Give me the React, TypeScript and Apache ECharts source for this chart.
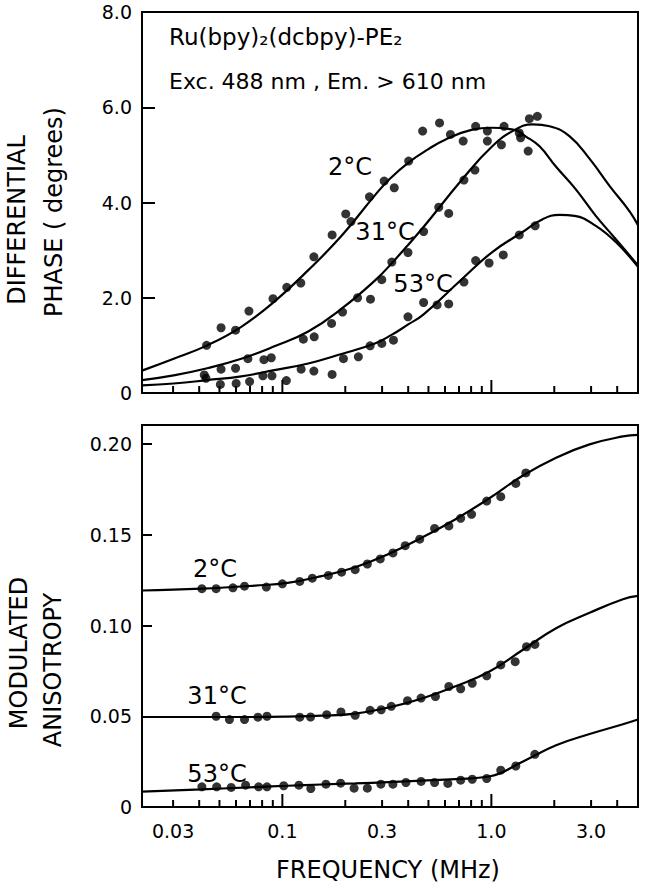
import React, { useEffect, useRef } from 'react';
import * as echarts from 'echarts';

const FONT = '"DejaVu Sans", sans-serif';

// ---- axis ticks / labels ----
const xMinorTicks = [0.03, 0.04, 0.05, 0.06, 0.07, 0.08, 0.09, 0.2, 0.3, 0.4, 0.5, 0.6, 0.7, 0.8, 0.9, 2, 3, 4];
const xMajorTicks = [0.1, 1.0];
const xTickValues = [0.03, 0.1, 0.3, 1.0, 3.0];
const xTickLabels = ['0.03', '0.1', '0.3', '1.0', '3.0'];
const phaseTickValues = [0, 2, 4, 6, 8];
const phaseTickLabels = ['0', '2.0', '4.0', '6.0', '8.0'];
const anisoTickValues = [0, 0.05, 0.1, 0.15, 0.2];
const anisoTickLabels = ['0', '0.05', '0.10', '0.15', '0.20'];
const temperatures = ['2°C', '31°C', '53°C'];

// ---- differential phase: measured points ----
const phase2Freq = [0.0434, 0.0509, 0.0597, 0.0692, 0.0902, 0.105, 0.1225, 0.1415, 0.173, 0.201, 0.213, 0.261, 0.307, 0.343, 0.402, 0.469, 0.565, 0.637, 0.733, 0.841, 0.957, 1.15, 1.38, 1.5];
const phase2Val = [1.0, 1.37, 1.32, 1.72, 1.98, 2.22, 2.31, 2.86, 3.32, 3.76, 3.6, 4.12, 4.45, 4.31, 4.87, 5.5, 5.67, 5.43, 5.29, 5.6, 5.5, 5.6, 5.36, 5.08];
const phase31Freq = [0.0423, 0.0509, 0.0597, 0.0684, 0.0816, 0.0885, 0.126, 0.142, 0.172, 0.194, 0.229, 0.264, 0.299, 0.334, 0.399, 0.474, 0.56, 0.625, 0.739, 0.834, 0.957, 1.117, 1.36, 1.52, 1.66];
const phase31Val = [0.38, 0.5, 0.52, 0.72, 0.7, 0.74, 1.13, 1.18, 1.46, 1.7, 2.0, 1.97, 2.38, 2.75, 2.95, 3.39, 3.9, 3.77, 4.47, 4.68, 5.29, 5.21, 5.46, 5.76, 5.81];
const phase53Freq = [0.0431, 0.0505, 0.0601, 0.0697, 0.0807, 0.0892, 0.1045, 0.123, 0.1415, 0.173, 0.196, 0.231, 0.263, 0.299, 0.34, 0.399, 0.474, 0.55, 0.625, 0.739, 0.841, 0.975, 1.14, 1.36, 1.62];
const phase53Val = [0.31, 0.18, 0.2, 0.24, 0.36, 0.36, 0.26, 0.5, 0.46, 0.39, 0.72, 0.76, 0.99, 1.04, 1.11, 1.6, 1.9, 1.85, 1.87, 2.33, 2.78, 2.73, 2.9, 3.32, 3.51];

// ---- differential phase: fitted curves ----
const phaseFit2Freq = [0.0213, 0.0302, 0.0437, 0.0636, 0.0916, 0.133, 0.192, 0.277, 0.327, 0.404, 0.5, 0.601, 0.811, 1.0, 1.3, 1.457, 1.7, 2.03, 2.53, 3.16, 3.94, 5.03];
const phaseFit2Val = [0.47, 0.72, 1.0, 1.39, 1.92, 2.58, 3.3, 4.15, 4.5, 4.85, 5.12, 5.32, 5.53, 5.57, 5.52, 5.39, 5.18, 4.76, 4.28, 3.72, 3.23, 2.68];
const phaseFit31Freq = [0.0213, 0.0302, 0.0437, 0.0636, 0.0916, 0.133, 0.192, 0.277, 0.333, 0.466, 0.726, 1.01, 1.3, 1.575, 1.9, 2.37, 2.96, 3.69, 4.61, 5.03];
const phaseFit31Val = [0.27, 0.37, 0.52, 0.72, 0.98, 1.29, 1.77, 2.36, 2.72, 3.45, 4.49, 5.18, 5.53, 5.64, 5.6, 5.39, 4.91, 4.34, 3.8, 3.52];
const phaseFit53Freq = [0.0213, 0.0302, 0.0437, 0.0636, 0.0916, 0.133, 0.192, 0.277, 0.333, 0.4, 0.474, 0.726, 1.01, 1.41, 1.76, 2.12, 2.5, 3.16, 3.94, 5.03];
const phaseFit53Val = [0.16, 0.2, 0.27, 0.35, 0.48, 0.62, 0.82, 1.04, 1.22, 1.44, 1.65, 2.4, 2.96, 3.38, 3.65, 3.74, 3.72, 3.51, 3.17, 2.65];

// ---- modulated anisotropy: measured points ----
const aniso2Freq = [0.0412, 0.0482, 0.058, 0.0659, 0.0838, 0.1, 0.1211, 0.139, 0.166, 0.192, 0.223, 0.255, 0.294, 0.338, 0.387, 0.454, 0.535, 0.626, 0.713, 0.804, 0.95, 1.109, 1.309, 1.462];
const aniso2Val = [0.1203, 0.1203, 0.1208, 0.1217, 0.1212, 0.123, 0.1243, 0.1261, 0.1276, 0.1294, 0.1308, 0.1339, 0.1367, 0.14, 0.144, 0.1476, 0.1535, 0.1549, 0.1591, 0.1613, 0.1686, 0.171, 0.1783, 0.1841];
const aniso31Freq = [0.0482, 0.0558, 0.0659, 0.0764, 0.0844, 0.1211, 0.1364, 0.163, 0.1907, 0.223, 0.263, 0.297, 0.332, 0.397, 0.461, 0.54, 0.626, 0.713, 0.81, 0.95, 1.109, 1.3, 1.473, 1.615];
const aniso31Val = [0.05, 0.0482, 0.0482, 0.0495, 0.05, 0.0495, 0.0496, 0.0509, 0.0524, 0.0505, 0.0533, 0.0536, 0.0555, 0.0586, 0.06, 0.0609, 0.0664, 0.0651, 0.0682, 0.0723, 0.0783, 0.0801, 0.0883, 0.0896];
const aniso53Freq = [0.0412, 0.0485, 0.0569, 0.0667, 0.077, 0.0844, 0.1015, 0.12, 0.1368, 0.1616, 0.19, 0.2204, 0.255, 0.296, 0.338, 0.39, 0.461, 0.535, 0.619, 0.713, 0.81, 0.95, 1.109, 1.309, 1.615];
const aniso53Val = [0.0111, 0.0111, 0.0108, 0.012, 0.0111, 0.0111, 0.0117, 0.012, 0.0102, 0.0126, 0.0131, 0.0104, 0.0104, 0.0126, 0.0126, 0.0135, 0.0141, 0.0135, 0.013, 0.0148, 0.0153, 0.0157, 0.0203, 0.0226, 0.029];

// ---- modulated anisotropy: fitted curves ----
const anisoFitFreq = [0.0213, 0.041, 0.074, 0.106, 0.154, 0.223, 0.322, 0.466, 0.674, 0.974, 1.41, 2.04, 2.95, 4.26, 5.03];
const anisoFit2Val = [0.1193, 0.1203, 0.122, 0.1235, 0.1272, 0.1321, 0.1394, 0.1485, 0.1586, 0.17, 0.1825, 0.1925, 0.1998, 0.2042, 0.2051];
const anisoFit31Val = [0.0496, 0.0496, 0.0496, 0.0498, 0.0503, 0.0515, 0.0548, 0.0598, 0.0665, 0.0745, 0.0865, 0.0985, 0.107, 0.1145, 0.1163];
const anisoFit53Val = [0.0085, 0.0097, 0.011, 0.0117, 0.0124, 0.013, 0.0137, 0.0145, 0.0154, 0.0168, 0.025, 0.034, 0.0402, 0.0456, 0.0482];

const pairs = (xs: number[], ys: number[]) => xs.map((x, i) => [x, ys[i]]);

const labelFrom = (values: number[], labels: string[]) => (v: number) => {
  const i = values.findIndex((t) => Math.abs(t - v) < 1e-6);
  return i >= 0 ? labels[i] : '';
};

const textStyle = (text: string, size: number, align = 'center') => ({
  text,
  fill: '#000',
  font: `${size}px ${FONT}`,
  align,
  verticalAlign: 'middle',
  textAlign: align,
  textVerticalAlign: 'middle',
});

function buildOption() {
  const xAxisBase = {
    type: 'log',
    logBase: 10,
    min: 0.0213,
    max: 5.03,
    axisLine: { show: true, lineStyle: { color: '#000', width: 2 } },
    axisTick: { show: false },
    axisLabel: { show: false },
    splitLine: { show: false },
  };
  const yAxisBase = {
    type: 'value',
    min: 0,
    axisLine: { show: true, lineStyle: { color: '#000', width: 2 } },
    splitLine: { show: false },
  };

  const tickSeries = (g: number, values: number[], len: number) => ({
    type: 'custom',
    xAxisIndex: g,
    yAxisIndex: g,
    clip: false,
    silent: true,
    z: 5,
    data: values.map((v) => [v, 0]),
    renderItem: (params: any, api: any) => {
      const p = api.coord([api.value(0), api.value(1)]);
      return {
        type: 'line',
        shape: { x1: p[0], y1: p[1], x2: p[0], y2: p[1] - len },
        style: { stroke: '#000', lineWidth: 2 },
      };
    },
  });

  const lineSeries = (g: number, xs: number[], ys: number[]) => ({
    type: 'line',
    xAxisIndex: g,
    yAxisIndex: g,
    data: pairs(xs, ys),
    smooth: 0.45,
    showSymbol: false,
    silent: true,
    lineStyle: { color: '#000', width: 2.2 },
    z: 3,
  });

  const scatterSeries = (g: number, xs: number[], ys: number[]) => ({
    type: 'scatter',
    xAxisIndex: g,
    yAxisIndex: g,
    data: pairs(xs, ys),
    symbol: 'circle',
    symbolSize: 9,
    itemStyle: { color: '#000' },
    silent: true,
    z: 4,
  });

  const tickLabelStyle = { color: '#000', fontSize: 19, fontFamily: FONT, margin: 10 };

  return {
    animation: false,
    backgroundColor: '#fff',
    grid: [
      { left: 142, top: 12, width: 496, height: 381, show: true, borderColor: '#000', borderWidth: 2, backgroundColor: 'transparent' },
      { left: 142, top: 425, width: 496, height: 382, show: true, borderColor: '#000', borderWidth: 2, backgroundColor: 'transparent' },
    ],
    xAxis: [
      { ...xAxisBase, gridIndex: 0 },
      { ...xAxisBase, gridIndex: 1 },
    ],
    yAxis: [
      {
        ...yAxisBase,
        gridIndex: 0,
        max: 8,
        interval: 2,
        axisTick: { show: true, inside: true, length: 13, lineStyle: { color: '#000', width: 2 } },
        axisLabel: { ...tickLabelStyle, formatter: labelFrom(phaseTickValues, phaseTickLabels) },
      },
      {
        ...yAxisBase,
        gridIndex: 1,
        max: 0.2105,
        interval: 0.05,
        axisTick: { show: true, inside: true, length: 10, lineStyle: { color: '#000', width: 2 } },
        axisLabel: { ...tickLabelStyle, formatter: labelFrom(anisoTickValues, anisoTickLabels) },
      },
    ],
    series: [
      tickSeries(0, xMinorTicks, 7),
      tickSeries(0, xMajorTicks, 13),
      tickSeries(1, xMinorTicks, 7),
      tickSeries(1, xMajorTicks, 13),
      {
        type: 'custom',
        xAxisIndex: 1,
        yAxisIndex: 1,
        clip: false,
        silent: true,
        data: xTickValues.map((v) => [v, 0]),
        renderItem: (params: any, api: any) => {
          const p = api.coord([api.value(0), api.value(1)]);
          return { type: 'text', x: p[0], y: p[1] + 24, style: textStyle(xTickLabels[params.dataIndex], 19) };
        },
      },
      lineSeries(0, phaseFit2Freq, phaseFit2Val),
      lineSeries(0, phaseFit31Freq, phaseFit31Val),
      lineSeries(0, phaseFit53Freq, phaseFit53Val),
      scatterSeries(0, phase2Freq, phase2Val),
      scatterSeries(0, phase31Freq, phase31Val),
      scatterSeries(0, phase53Freq, phase53Val),
      lineSeries(1, anisoFitFreq, anisoFit2Val),
      lineSeries(1, anisoFitFreq, anisoFit31Val),
      lineSeries(1, anisoFitFreq, anisoFit53Val),
      scatterSeries(1, aniso2Freq, aniso2Val),
      scatterSeries(1, aniso31Freq, aniso31Val),
      scatterSeries(1, aniso53Freq, aniso53Val),
    ],
    graphic: [
      { type: 'text', x: 169, y: 37, style: textStyle('Ru(bpy)₂(dcbpy)-PE₂', 23, 'left') },
      { type: 'text', x: 169, y: 81, style: textStyle('Exc. 488 nm , Em. > 610 nm', 22, 'left') },
      { type: 'text', x: 350, y: 167, style: textStyle(temperatures[0], 24) },
      { type: 'text', x: 385, y: 232, style: textStyle(temperatures[1], 24) },
      { type: 'text', x: 423, y: 284, style: textStyle(temperatures[2], 24) },
      { type: 'text', x: 215, y: 569, style: textStyle(temperatures[0], 24) },
      { type: 'text', x: 217, y: 696, style: textStyle(temperatures[1], 24) },
      { type: 'text', x: 217, y: 774, style: textStyle(temperatures[2], 24) },
      { type: 'text', x: 17, y: 220, rotation: Math.PI / 2, style: textStyle('DIFFERENTIAL', 24) },
      { type: 'text', x: 54, y: 212, rotation: Math.PI / 2, style: textStyle('PHASE ( degrees)', 24) },
      { type: 'text', x: 19, y: 653, rotation: Math.PI / 2, style: textStyle('MODULATED', 24) },
      { type: 'text', x: 53, y: 670, rotation: Math.PI / 2, style: textStyle('ANISOTROPY', 24) },
      { type: 'text', x: 388, y: 870, style: textStyle('FREQUENCY (MHz)', 24) },
    ],
  };
}

export default function App() {
  const ref = useRef<HTMLDivElement>(null);
  useEffect(() => {
    if (!ref.current) return;
    const chart = echarts.init(ref.current, null, { renderer: 'svg' });
    chart.setOption(buildOption() as any);
    return () => chart.dispose();
  }, []);
  return (
    <div
      ref={ref}
      style={{ position: 'fixed', left: 0, top: 0, width: 645, height: 884, background: '#fff' }}
    />
  );
}
